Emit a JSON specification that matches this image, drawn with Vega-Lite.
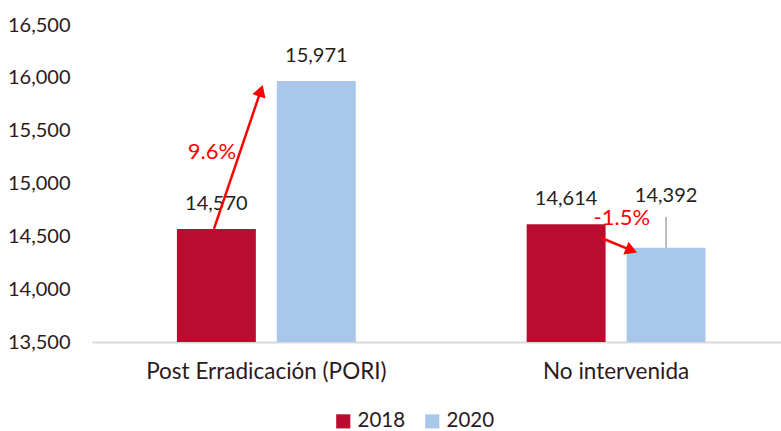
{
  "$schema": "https://vega.github.io/schema/vega-lite/v6.json",
  "width": 689,
  "height": 317,
  "autosize": {"type": "none"},
  "padding": {"left": 92, "top": 25, "right": 0, "bottom": 89},
  "config": {
    "view": {"stroke": null},
    "font": "Lato",
    "axis": {"labelFont": "Lato", "labelColor": "#2b1a1e"},
    "legend": {"labelFont": "Lato"}
  },
  "datasets": {
    "bars": [
      {"grupo": "Post Erradicación (PORI)", "anio": "2018", "valor": 14570},
      {"grupo": "Post Erradicación (PORI)", "anio": "2020", "valor": 15971},
      {"grupo": "No intervenida", "anio": "2018", "valor": 14614},
      {"grupo": "No intervenida", "anio": "2020", "valor": 14392}
    ],
    "arrows": [
      {"id": "PORI", "x0": 0.354, "y0": 14570, "x1": 0.490, "y1": 15879, "pct": "9.6%", "lx": 0.348, "ly": 15298},
      {"id": "NI", "x0": 1.479, "y0": 14484, "x1": 1.566, "y1": 14367, "pct": "-1.5%", "lx": 1.538, "ly": 14673}
    ]
  },
  "layer": [
    {
      "data": {"name": "bars"},
      "layer": [
        {
          "mark": {"type": "bar", "clip": true},
          "encoding": {
            "x": {
              "field": "grupo", "type": "nominal", "sort": ["Post Erradicación (PORI)", "No intervenida"],
              "scale": {"paddingInner": 0.48, "paddingOuter": 0.225, "align": 0.53},
              "axis": {"title": null, "labelAngle": 0, "labelFontSize": 22.5, "labelPadding": 18, "labelLimit": 500, "ticks": false, "domainColor": "#d9d9d9", "domainWidth": 2}
            },
            "xOffset": {"field": "anio", "type": "nominal", "scale": {"paddingInner": 0.21, "paddingOuter": 0.015}},
            "y": {
              "field": "valor", "type": "quantitative",
              "scale": {"domain": [13500, 16500], "nice": false, "zero": false},
              "axis": {"title": null, "values": [13500, 14000, 14500, 15000, 15500, 16000, 16500], "labelExpr": "format(datum.value, ',')", "labelFontSize": 20, "labelPadding": 22, "ticks": false, "domain": false, "grid": false}
            },
            "y2": {"datum": 13500},
            "color": {
              "field": "anio", "type": "nominal",
              "scale": {"domain": ["2018", "2020"], "range": ["#ba0c2f", "#a9c7eb"]},
              "legend": {"title": null, "orient": "none", "legendX": 241, "legendY": 386, "padding": 0, "direction": "horizontal", "symbolType": "square", "symbolSize": 200, "labelFontSize": 20.5, "labelColor": "#2b1a1e", "columnPadding": 16, "labelOffset": 4}
            }
          }
        },
        {
          "transform": [{"filter": "datum.valor != 14392"}],
          "mark": {"type": "text", "fontSize": 20, "color": "#231f20", "baseline": "middle", "dy": -25},
          "encoding": {
            "x": {"field": "grupo", "type": "nominal", "sort": ["Post Erradicación (PORI)", "No intervenida"]},
            "xOffset": {"field": "anio", "type": "nominal"},
            "y": {"field": "valor", "type": "quantitative"},
            "text": {"field": "valor", "type": "quantitative", "format": ","}
          }
        },
        {
          "transform": [{"filter": "datum.valor == 14392"}],
          "mark": {"type": "text", "fontSize": 20, "color": "#231f20", "baseline": "middle", "dy": -52},
          "encoding": {
            "x": {"field": "grupo", "type": "nominal", "sort": ["Post Erradicación (PORI)", "No intervenida"]},
            "xOffset": {"field": "anio", "type": "nominal"},
            "y": {"field": "valor", "type": "quantitative"},
            "text": {"field": "valor", "type": "quantitative", "format": ","}
          }
        },
        {
          "transform": [{"filter": "datum.valor == 14392"}],
          "mark": {"type": "rule", "color": "#a6a6a6", "strokeWidth": 1.5},
          "encoding": {
            "x": {"field": "grupo", "type": "nominal", "sort": ["Post Erradicación (PORI)", "No intervenida"]},
            "xOffset": {"field": "anio", "type": "nominal"},
            "y": {"field": "valor", "type": "quantitative"},
            "y2": {"datum": 14683}
          }
        }
      ]
    },
    {
      "data": {"name": "arrows"},
      "layer": [
        {
          "mark": {"type": "rule", "color": "#ff0000", "strokeWidth": 2.5},
          "encoding": {
            "x": {"field": "x0", "type": "quantitative", "scale": {"domain": [0, 2], "nice": false, "zero": false}, "axis": null},
            "x2": {"field": "x1"},
            "y": {"field": "y0", "type": "quantitative"},
            "y2": {"field": "y1"}
          }
        },
        {
          "transform": [{"filter": "datum.id == 'PORI'"}],
          "mark": {"type": "point", "shape": "triangle-up", "filled": true, "color": "#ff0000", "opacity": 1, "size": 190, "angle": 18.5},
          "encoding": {
            "x": {"field": "x1", "type": "quantitative"},
            "y": {"field": "y1", "type": "quantitative"}
          }
        },
        {
          "transform": [{"filter": "datum.id == 'NI'"}],
          "mark": {"type": "point", "shape": "triangle-up", "filled": true, "color": "#ff0000", "opacity": 1, "size": 190, "angle": 112},
          "encoding": {
            "x": {"field": "x1", "type": "quantitative"},
            "y": {"field": "y1", "type": "quantitative"}
          }
        },
        {
          "mark": {"type": "text", "fontSize": 22, "color": "#ff0000", "baseline": "middle"},
          "encoding": {
            "x": {"field": "lx", "type": "quantitative"},
            "y": {"field": "ly", "type": "quantitative"},
            "text": {"field": "pct", "type": "nominal"}
          }
        }
      ]
    }
  ],
  "resolve": {"scale": {"x": "independent"}}
}
